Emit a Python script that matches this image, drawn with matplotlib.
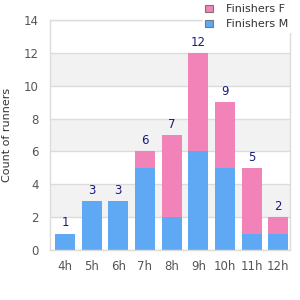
import matplotlib
matplotlib.use("Agg")
import matplotlib.pyplot as plt
from matplotlib.patches import Patch
import numpy as np

categories = ["4h", "5h", "6h", "7h", "8h", "9h", "10h", "11h", "12h"]
finishers_m = [1, 3, 3, 5, 2, 6, 5, 1, 1]
finishers_f = [0, 0, 0, 1, 5, 6, 4, 4, 1]
y_ticks = [0, 2, 4, 6, 8, 10, 12, 14]

col_m = "#5fa9f4"
col_f = "#f283b8"
grid_col = "#dcdcdc"
text_col = "#555555"
label_col = "#1a1a80"

fig = plt.figure(figsize=(3, 3), dpi=100)
ax = fig.add_axes([50/300, 50/300, 240/300, 230/300])

x = np.arange(len(categories))
m = np.array(finishers_m)
f = np.array(finishers_f)
tot = m + f

# alternating bands
for lo in [2, 6, 10]:
    ax.axhspan(lo, lo + 2, color="#f2f2f2", zorder=0, lw=0)
for t in y_ticks:
    ax.axhline(t, color=grid_col, lw=1, zorder=1)

ax.bar(x, m, width=0.75, color=col_m, zorder=2, lw=0)
ax.bar(x, f, width=0.75, bottom=m, color=col_f, zorder=2, lw=0)

for xi, t in zip(x, tot):
    ax.text(xi, t + 0.25, str(t), ha="center", va="bottom", fontsize=8.5, color=label_col, zorder=3)

ax.set_xlim(-0.5625, 8.4375)
ax.set_ylim(0, 14)
ax.set_yticks(y_ticks)
ax.set_xticks(x)
ax.set_xticklabels(categories)
ax.tick_params(axis="both", length=0, labelsize=8.5, colors=text_col)
ax.tick_params(axis="x", pad=7)
ax.tick_params(axis="y", pad=8)
for s in ax.spines.values():
    s.set_color(grid_col)
    s.set_linewidth(1)
fig.text(7/300, 0.55, "Count of runners", rotation=90, ha="center", va="center",
         fontsize=8, color="#333333")

handles = [Patch(facecolor=col_f, edgecolor="#777777", lw=0.8),
           Patch(facecolor=col_m, edgecolor="#777777", lw=0.8)]
leg = fig.legend(handles, ["Finishers F", "Finishers M"], loc="upper left",
                 bbox_to_anchor=(203/300, 0.993), fontsize=8, frameon=True,
                 handlelength=0.7, handleheight=0.7, handletextpad=1.2,
                 labelspacing=0.45, borderpad=0.2, borderaxespad=0)
leg.get_frame().set_facecolor("white")
leg.get_frame().set_edgecolor("white")
leg.get_frame().set_alpha(1)
for t in leg.get_texts():
    t.set_color("#333333")

fig.savefig("out.png", dpi=100)
